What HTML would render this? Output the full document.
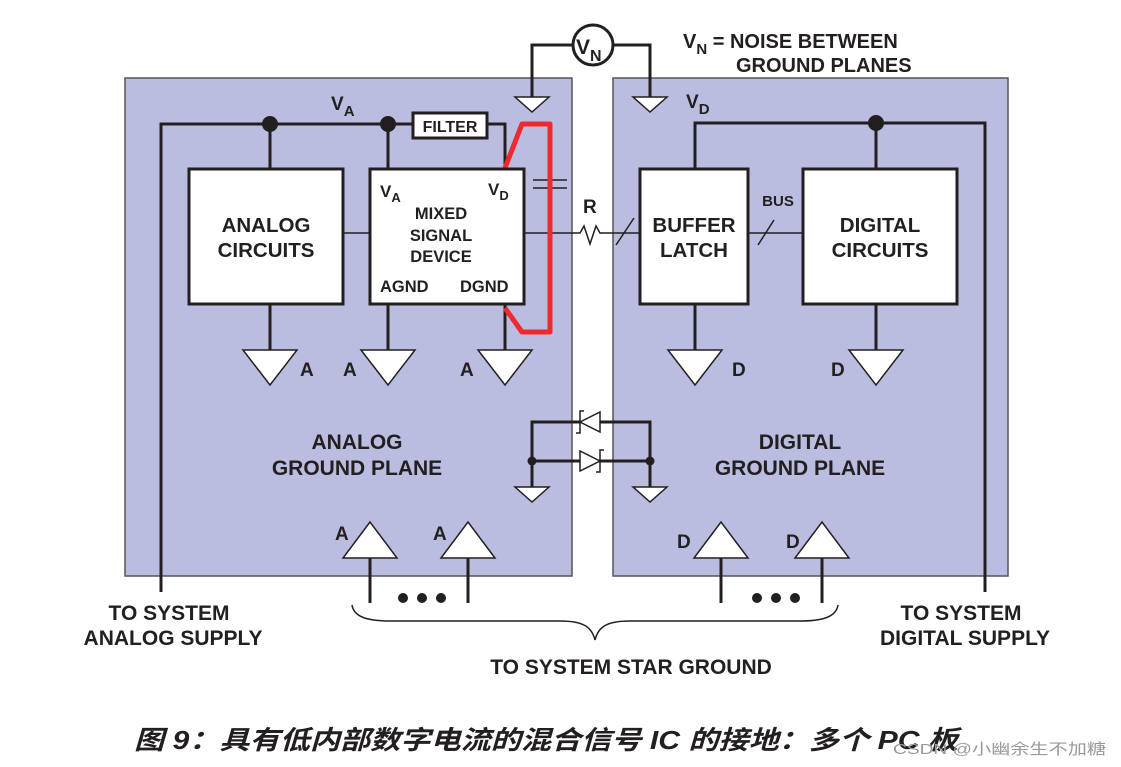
<!DOCTYPE html>
<html><head><meta charset="utf-8"><style>
html,body{margin:0;padding:0;background:#fff;}
svg{display:block;}
text{font-family:"Liberation Sans","Noto Sans CJK SC",sans-serif;font-weight:bold;fill:#231f20;}
</style></head><body>
<svg width="1121" height="767" viewBox="0 0 1121 767" xmlns="http://www.w3.org/2000/svg">
<g stroke="#555" stroke-width="1.5" fill="#babde0">
<rect x="125" y="78" width="447" height="498"/>
<rect x="613" y="78" width="395" height="498"/>
</g>
<g stroke="#231f20" stroke-width="3" fill="none" stroke-linejoin="miter">
<polyline points="161,592 161,124 413,124"/>
<polyline points="487,124 505,124 505,168"/>
<line x1="270" y1="124" x2="270" y2="168"/>
<line x1="388" y1="124" x2="388" y2="168"/>
<polyline points="695,168 695,123 985,123 985,592"/>
<line x1="876" y1="123" x2="876" y2="168"/>
<line x1="270" y1="304" x2="270" y2="350"/>
<line x1="388" y1="304" x2="388" y2="350"/>
<line x1="505" y1="304" x2="505" y2="350"/>
<line x1="695" y1="304" x2="695" y2="350"/>
<line x1="876" y1="304" x2="876" y2="350"/>
<polyline points="573,45 532,45 532,97"/>
<polyline points="613,45 650,45 650,97"/>
<polyline points="532,487 532,422 650,422 650,487"/>
<line x1="532" y1="461" x2="650" y2="461"/>
<line x1="370" y1="557" x2="370" y2="603"/>
<line x1="468" y1="557" x2="468" y2="603"/>
<line x1="721" y1="557" x2="721" y2="603"/>
<line x1="822" y1="557" x2="822" y2="603"/>
</g>
<g stroke="#231f20" stroke-width="1.5" fill="none">
<line x1="343" y1="233" x2="370" y2="233"/>
<polyline points="524,233 580,233 584,226 590,244 596,226 600,233 640,233"/>
<line x1="616" y1="245" x2="634" y2="218"/>
<line x1="748" y1="233" x2="803" y2="233"/>
<line x1="758" y1="245" x2="774" y2="220"/>
<line x1="533" y1="180" x2="567" y2="180"/>
<line x1="533" y1="188" x2="567" y2="188"/>
<path d="M352,605 C354,618 370,621 390,621 L560,621 C585,621 592,628 595,640 C598,628 605,621 630,621 L800,621 C820,621 836,618 838,605"/>
</g>
<polyline points="505,168 522,124 550,124 550,332 522,332 505,308" stroke="#ee2a2e" stroke-width="5" fill="none" stroke-linejoin="round"/>
<g stroke="#231f20" stroke-width="3" fill="#fff">
<rect x="189" y="169" width="154" height="135"/>
<rect x="370" y="169" width="154" height="135"/>
<rect x="640" y="169" width="108" height="135"/>
<rect x="803" y="169" width="154" height="135"/>
<rect x="413" y="113" width="74" height="25"/>
<circle cx="593" cy="45" r="20"/>
</g>
<g stroke="#231f20" stroke-width="1.5" fill="#fff">
<polygon points="243,350 297,350 270,385"/>
<polygon points="361,350 415,350 388,385"/>
<polygon points="478,350 532,350 505,385"/>
<polygon points="668,350 722,350 695,385"/>
<polygon points="849,350 903,350 876,385"/>
<polygon points="515,97 549,97 532,112"/>
<polygon points="633,97 667,97 650,112"/>
<polygon points="515,487 549,487 532,502"/>
<polygon points="633,487 667,487 650,502"/>
<polygon points="343,558 397,558 370,522"/>
<polygon points="441,558 495,558 468,522"/>
<polygon points="694,558 748,558 721,522"/>
<polygon points="795,558 849,558 822,522"/>
<polygon points="580,422 600,412 600,432"/>
<polygon points="600,461 580,451 580,471"/>
</g>
<g stroke="#231f20" stroke-width="1.5" fill="none">
<polyline points="584,411 580,411 580,433 576,433"/>
<polyline points="604,450 600,450 600,472 596,472"/>
</g>
<g fill="#231f20">
<circle cx="270" cy="124" r="8"/><circle cx="388" cy="124" r="8"/><circle cx="876" cy="123" r="8"/>
<circle cx="532" cy="461" r="4.5"/><circle cx="650" cy="461" r="4.5"/>
<circle cx="403" cy="598" r="5"/><circle cx="422" cy="598" r="5"/><circle cx="441" cy="598" r="5"/>
<circle cx="757" cy="598" r="5"/><circle cx="776" cy="598" r="5"/><circle cx="795" cy="598" r="5"/>
</g>
<g font-size="19">
<text x="331" y="110">V<tspan font-size="15" dy="6">A</tspan></text>
<text x="686" y="108">V<tspan font-size="15" dy="6">D</tspan></text>
<text x="576" y="54" font-size="21">V<tspan font-size="16" dy="7">N</tspan></text>
<text x="683" y="48" font-size="20">V<tspan font-size="15" dy="6">N</tspan><tspan dy="-6"> = NOISE BETWEEN</tspan></text>
<text x="736" y="72" font-size="20">GROUND PLANES</text>
<text x="450" y="132" font-size="16" text-anchor="middle">FILTER</text>
<text x="266" y="232" font-size="20.5" text-anchor="middle">ANALOG</text>
<text x="266" y="257" font-size="20.5" text-anchor="middle">CIRCUITS</text>
<text x="380" y="197" font-size="17">V<tspan font-size="13" dy="5">A</tspan></text>
<text x="488" y="195" font-size="17">V<tspan font-size="13" dy="5">D</tspan></text>
<text x="441" y="219" font-size="16.5" text-anchor="middle">MIXED</text>
<text x="441" y="241" font-size="16.5" text-anchor="middle">SIGNAL</text>
<text x="441" y="262" font-size="16.5" text-anchor="middle">DEVICE</text>
<text x="380" y="292" font-size="16.5">AGND</text>
<text x="460" y="292" font-size="16.5">DGND</text>
<text x="583" y="213" font-size="19">R</text>
<text x="694" y="232" font-size="20.5" text-anchor="middle">BUFFER</text>
<text x="694" y="257" font-size="20.5" text-anchor="middle">LATCH</text>
<text x="778" y="206" font-size="15" text-anchor="middle">BUS</text>
<text x="880" y="232" font-size="20.5" text-anchor="middle">DIGITAL</text>
<text x="880" y="257" font-size="20.5" text-anchor="middle">CIRCUITS</text>
<text x="300" y="376">A</text><text x="343" y="376">A</text><text x="460" y="376">A</text>
<text x="732" y="376">D</text><text x="831" y="376">D</text>
<text x="357" y="449" font-size="21" text-anchor="middle">ANALOG</text>
<text x="357" y="475" font-size="21" text-anchor="middle">GROUND PLANE</text>
<text x="800" y="449" font-size="21" text-anchor="middle">DIGITAL</text>
<text x="800" y="475" font-size="21" text-anchor="middle">GROUND PLANE</text>
<text x="335" y="540">A</text><text x="433" y="540">A</text>
<text x="677" y="548">D</text><text x="786" y="548">D</text>
<text x="169" y="620" font-size="21" text-anchor="middle">TO SYSTEM</text>
<text x="173" y="645" font-size="21" text-anchor="middle">ANALOG SUPPLY</text>
<text x="961" y="620" font-size="21" text-anchor="middle">TO SYSTEM</text>
<text x="965" y="645" font-size="21" text-anchor="middle">DIGITAL SUPPLY</text>
<text x="631" y="674" font-size="21" text-anchor="middle">TO SYSTEM STAR GROUND</text>
</g>
<text x="134" y="749" font-size="26" font-style="italic" textLength="824" lengthAdjust="spacingAndGlyphs">图 9：具有低内部数字电流的混合信号 IC 的接地：多个 PC 板</text>
<text x="893" y="754" font-size="15" style="font-weight:normal;fill:#999" textLength="213" lengthAdjust="spacingAndGlyphs">CSDN @小幽余生不加糖</text>
</svg>
</body></html>
